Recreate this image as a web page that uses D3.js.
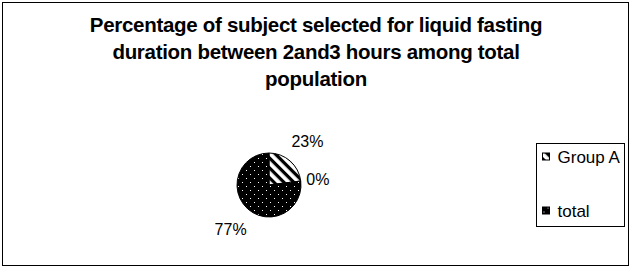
<!DOCTYPE html>
<html lang="en">
<head>
    <meta charset="UTF-8">
    <script src="https://d3js.org/d3.v7.min.js"></script>
    <title>Liquid fasting pie</title>
    <style>
        body { margin: 0; background: #fff; }
        text { font-family: Arial, "Liberation Sans", sans-serif; fill: #000; }
    </style>
</head>
<body>
    <div class="chart"></div>

    <script>
        const categories = ["Group A", "", "total"];
        const values = [23, 0, 77];
        const labels = ["23%", "0%", "77%"];
        const titleLines = [
          "Percentage of subject selected for liquid fasting",
          "duration between 2and3 hours among total",
          "population"
        ];

        const width = 632, height = 269;
        const cx = 269, cy = 185, radius = 32;

        const svg = d3.select(".chart")
          .append("svg")
          .attr("width", width)
          .attr("height", height);

        // fill patterns
        const defs = svg.append("defs");
        const hatch = defs.append("pattern")
          .attr("id", "hatch")
          .attr("patternUnits", "userSpaceOnUse")
          .attr("width", 7).attr("height", 7)
          .attr("patternTransform", "rotate(45)");
        hatch.append("rect").attr("width", 7).attr("height", 7).attr("fill", "#fff");
        hatch.append("rect").attr("width", 7).attr("height", 3.2).attr("fill", "#000");

        const dots = defs.append("pattern")
          .attr("id", "dots")
          .attr("patternUnits", "userSpaceOnUse")
          .attr("width", 8).attr("height", 8);
        dots.append("rect").attr("width", 8).attr("height", 8).attr("fill", "#000");
        dots.append("rect").attr("x", 1).attr("y", 1).attr("width", 1).attr("height", 1).attr("fill", "#fff");
        dots.append("rect").attr("x", 5).attr("y", 5).attr("width", 1).attr("height", 1).attr("fill", "#fff");

        const fills = d3.scaleOrdinal()
          .domain(categories)
          .range(["url(#hatch)", "#fff", "url(#dots)"]);

        // outer frame
        svg.append("rect")
          .attr("x", 2.5).attr("y", 2.5)
          .attr("width", 626).attr("height", 263)
          .attr("fill", "none")
          .attr("stroke", "#000");

        // title
        svg.append("text")
          .attr("x", 316)
          .attr("text-anchor", "middle")
          .attr("font-weight", "bold")
          .attr("font-size", 20.5)
          .attr("letter-spacing", -0.3)
          .selectAll("tspan")
          .data(titleLines)
          .enter()
          .append("tspan")
          .attr("x", 316)
          .attr("y", (d, i) => 32 + i * 27)
          .text(d => d);

        const data = categories.map((c, i) => ({ category: c, value: values[i], label: labels[i] }));
        const pie = d3.pie().sort(null).value(d => d.value);
        const arc = d3.arc().innerRadius(0).outerRadius(radius);
        const arcs = pie(data);

        const g = svg.append("g")
          .attr("transform", "translate(" + cx + "," + cy + ")");

        g.selectAll(".slice")
          .data(arcs.filter(d => d.value > 0))
          .enter()
          .append("path")
          .attr("class", "slice")
          .attr("d", arc)
          .attr("fill", d => fills(d.data.category))
          .attr("stroke", "#000")
          .attr("stroke-width", 1);

        // data labels outside the pie, box edge kept at a fixed gap
        const labelText = g.selectAll(".data-label")
          .data(arcs)
          .enter()
          .append("text")
          .attr("class", "data-label")
          .attr("font-size", 16)
          .attr("text-anchor", "middle")
          .text(d => d.data.label);

        labelText.each(function(d) {
          const a = (d.startAngle + d.endAngle) / 2;
          const ux = Math.sin(a), uy = -Math.cos(a);
          const w = this.getComputedTextLength(), h = 12;
          const gap = d.value > 0 ? 43 : 37;
          const dist = gap + Math.abs(ux) * w / 2 + Math.abs(uy) * h / 2;
          d3.select(this)
            .attr("x", ux * dist)
            .attr("y", uy * dist + 6);
        });

        // legend
        const legend = svg.append("g")
          .attr("transform", "translate(536.5,143.5)");
        legend.append("rect")
          .attr("width", 88).attr("height", 83)
          .attr("fill", "#fff")
          .attr("stroke", "#000");

        const entry = legend.selectAll(".entry")
          .data(categories)
          .enter()
          .append("g")
          .attr("class", "entry")
          .attr("transform", (d, i) => "translate(6," + (13 + i * 27) + ")");

        entry.filter(d => d !== "")
          .append("rect")
          .attr("x", 0).attr("y", -3.5)
          .attr("width", 7).attr("height", 7)
          .attr("fill", d => fills(d))
          .attr("stroke", "#000");

        entry.append("text")
          .attr("x", 15)
          .attr("y", 6)
          .attr("font-size", 17)
          .text(d => d);
      </script>
</body>
</html>
